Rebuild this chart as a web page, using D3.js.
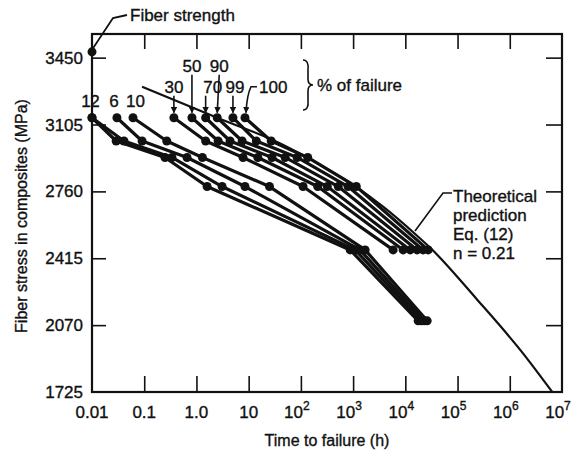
<!DOCTYPE html>
<html>
<head>
<meta charset="utf-8" />
<title>Stress rupture</title>
<script src="https://d3js.org/d3.v7.min.js"></script>
<style>
  body { margin: 0; background: #fff; }
  text { font-family: "Liberation Sans", Arial, sans-serif; fill: #111; stroke: #111; stroke-width: 0.35px; }
</style>
</head>
<body>
<svg id="chart"></svg>
<script>
// stress levels of the tests (MPa)
var stressLevels = [3140, 3020, 2935, 2785, 2458, 2092];

// time to failure (h) of each % of failure, one value per stress level
var fail1   = [0.01, 0.029, 0.25, 1.6, 880, 17600];
var fail2   = [0.01, 0.041, 0.34, 3.1, 1100, 20100];
var fail6   = [0.030, 0.091, 0.66, 8.5, 1360, 22900];
var fail10  = [0.061, 0.27, 1.3, 25, 1700, 26200];
var fail30  = [0.37, 1.5, 7.8, 110, 5840];
var fail50  = [0.82, 2.6, 15, 210, 9080];
var fail70  = [1.5, 4.4, 28, 320, 12400];
var fail90  = [2.5, 7.5, 50, 520, 16800];
var fail99  = [5.0, 14, 85, 800, 21900];
var fail100 = [8.5, 27, 135, 1150, 27400];

var percentLabels = ["1", "2", "6", "10", "30", "50", "70", "90", "99", "100"];
var series = [fail1, fail2, fail6, fail10, fail30, fail50, fail70, fail90, fail99, fail100];

// theoretical prediction, Eq. (12), n = 0.21
var theoryHours  = [0.091, 2.5, 46, 200, 880, 3800, 17000, 30000, 240000, 1700000, 6500000];
var theoryStress = [3300, 3140, 3000, 2907, 2804, 2680, 2530, 2469, 2200, 1932, 1725];

var fiberStrength = 3480;

var xTicks = [0.01, 0.1, 1, 10, 1e2, 1e3, 1e4, 1e5, 1e6, 1e7];
var xTickBase = ["0.01", "0.1", "1.0", "10", "10", "10", "10", "10", "10", "10"];
var xTickExp = ["", "", "", "", "2", "3", "4", "5", "6", "7"];
var yTicks = [1725, 2070, 2415, 2760, 3105, 3450];

var width = 575, height = 450;
var margin = {top: 34, right: 13, bottom: 58, left: 92};

var svg = d3.select("#chart")
  .attr("width", width)
  .attr("height", height);

var x = d3.scaleLog()
  .domain([0.01, 1e7])
  .range([margin.left, width - margin.right]);

var y = d3.scaleLinear()
  .domain([1725, 3572])
  .range([height - margin.bottom, margin.top]);

var x0 = margin.left, x1 = width - margin.right;
var y0 = height - margin.bottom, y1 = margin.top;

// axes, ticks pointing inward
function styleAxis(g) {
  g.select(".domain").remove();
  g.selectAll(".tick line").attr("stroke", "#111").attr("stroke-width", 1.6);
}

svg.append("g")
  .attr("transform", "translate(0," + y0 + ")")
  .call(d3.axisBottom(x).tickValues(xTicks.slice(1, -1)).tickSize(-16).tickFormat(""))
  .call(styleAxis);

svg.append("g")
  .attr("transform", "translate(0," + y1 + ")")
  .call(d3.axisTop(x).tickValues(xTicks.slice(1, -1)).tickSize(-15).tickFormat(""))
  .call(styleAxis);

svg.append("g")
  .attr("transform", "translate(" + x0 + ",0)")
  .call(d3.axisLeft(y).tickValues(yTicks.slice(1)).tickSize(-14).tickFormat(""))
  .call(styleAxis);

svg.append("g")
  .attr("transform", "translate(" + x1 + ",0)")
  .call(d3.axisRight(y).tickValues(yTicks.slice(1)).tickSize(-16).tickFormat(""))
  .call(styleAxis);

svg.append("rect")
  .attr("x", x0).attr("y", y1)
  .attr("width", x1 - x0).attr("height", y0 - y1)
  .attr("fill", "none").attr("stroke", "#111").attr("stroke-width", 2.2);

// tick labels
svg.selectAll(".ylab")
  .data(yTicks)
  .enter().append("text")
  .attr("class", "ylab")
  .attr("x", x0 - 9)
  .attr("y", function(d) { return y(d) + 6; })
  .attr("text-anchor", "end")
  .attr("font-size", 17)
  .text(function(d) { return d; });

var xl = svg.selectAll(".xlab")
  .data(xTicks)
  .enter().append("text")
  .attr("class", "xlab")
  .attr("x", function(d, i) { return x(d) + (xTickExp[i] ? -4 : 0); })
  .attr("y", y0 + 26)
  .attr("text-anchor", "middle")
  .attr("font-size", 17);
xl.append("tspan").text(function(d, i) { return xTickBase[i]; });
xl.append("tspan")
  .attr("font-size", 12)
  .attr("dy", -8)
  .text(function(d, i) { return xTickExp[i]; });

svg.append("text")
  .attr("x", (x0 + x1) / 2)
  .attr("y", 446)
  .attr("text-anchor", "middle")
  .attr("font-size", 16)
  .text("Time to failure (h)");

svg.append("text")
  .attr("transform", "translate(27," + 216 + ") rotate(-90)")
  .attr("text-anchor", "middle")
  .attr("font-size", 16)
  .text("Fiber stress in composites (MPa)");

// theoretical curve
var theory = theoryHours.map(function(t, i) { return {t: t, s: theoryStress[i]}; });
svg.append("path")
  .datum(theory)
  .attr("fill", "none")
  .attr("stroke", "#111")
  .attr("stroke-width", 2.2)
  .attr("d", d3.line()
    .x(function(d) { return x(d.t); })
    .y(function(d) { return y(d.s); })
    .curve(d3.curveMonotoneX));

// percent-of-failure lines
var line = d3.line()
  .x(function(d) { return x(d.t); })
  .y(function(d) { return y(d.s); });

series.forEach(function(times) {
  var pts = times.map(function(t, i) { return {t: t, s: stressLevels[i]}; });
  svg.append("path")
    .datum(pts)
    .attr("fill", "none")
    .attr("stroke", "#111")
    .attr("stroke-width", 3.2)
    .attr("stroke-linejoin", "round")
    .attr("d", line);
  svg.selectAll(null)
    .data(pts)
    .enter().append("circle")
    .attr("cx", function(d) { return x(d.t); })
    .attr("cy", function(d) { return y(d.s); })
    .attr("r", 4.5)
    .attr("fill", "#111");
});

// fiber strength point
svg.append("circle")
  .attr("cx", x(0.01)).attr("cy", y(fiberStrength))
  .attr("r", 4.5).attr("fill", "#111");
svg.append("path")
  .attr("d", "M" + x(0.01) + "," + (y(fiberStrength) - 2) + " L113,18 L127,15")
  .attr("fill", "none").attr("stroke", "#111").attr("stroke-width", 1.8);
svg.append("text")
  .attr("x", 130).attr("y", 21)
  .attr("font-size", 17)
  .text("Fiber strength");

// percent labels
var defs = svg.append("defs");
defs.append("marker")
  .attr("id", "arr")
  .attr("viewBox", "0 0 10 10")
  .attr("refX", 9).attr("refY", 5)
  .attr("markerWidth", 4).attr("markerHeight", 4)
  .attr("orient", "auto")
  .append("path").attr("d", "M0,0 L10,5 L0,10 z").attr("fill", "#111");

var labelDx = [-6, 3, -3, 2.5, 0, 0, 7, 2, 2, 0];
var labelRow = [0, 0, 0, 0, 1, 2, 1, 2, 1, 1];
var rowDy = [-11, -25, -46];
var topY = y(stressLevels[0]);

percentLabels.forEach(function(p, i) {
  var cx = x(series[i][0]);
  var ty = topY + rowDy[labelRow[i]];
  if (p === "100") {
    svg.append("text")
      .attr("x", cx + 14).attr("y", ty)
      .attr("font-size", 17)
      .text(p);
    svg.append("path")
      .attr("d", "M" + (cx + 12) + "," + (ty - 6) + " L" + (cx + 6) + "," + (ty - 6) +
        " Q" + (cx + 2) + "," + (ty + 2) + " " + (cx + 1) + "," + (topY - 5))
      .attr("fill", "none").attr("stroke", "#111").attr("stroke-width", 1.6)
      .attr("marker-end", "url(#arr)");
    return;
  }
  svg.append("text")
    .attr("x", cx + labelDx[i]).attr("y", ty)
    .attr("text-anchor", "middle")
    .attr("font-size", 17)
    .text(p);
  if (labelRow[i] > 0) {
    svg.append("line")
      .attr("x1", cx + (labelRow[i] === 2 ? labelDx[i] : 0)).attr("y1", ty + 3)
      .attr("x2", cx).attr("y2", topY - 5)
      .attr("stroke", "#111").attr("stroke-width", 1.6)
      .attr("marker-end", "url(#arr)");
  }
});

// brace and "% of failure"
svg.append("path")
  .attr("d", "M303,60 Q309,60 308,70 L308,79 Q308,85 313,85 Q308,85 308,91 L308,100 Q309,110 303,110")
  .attr("fill", "none").attr("stroke", "#111").attr("stroke-width", 1.6);
svg.append("text")
  .attr("x", 317).attr("y", 91)
  .attr("font-size", 17)
  .text("% of failure");

// theoretical prediction label
var tl = svg.append("text").attr("font-size", 17);
["Theoretical", "prediction", "Eq. (12)", "n = 0.21"].forEach(function(s, i) {
  tl.append("tspan").attr("x", 453).attr("y", 202 + i * 19).text(s);
});
svg.append("path")
  .attr("d", "M452,193 L443,193 L415,231")
  .attr("fill", "none").attr("stroke", "#111").attr("stroke-width", 1.6);
</script>
</body>
</html>
